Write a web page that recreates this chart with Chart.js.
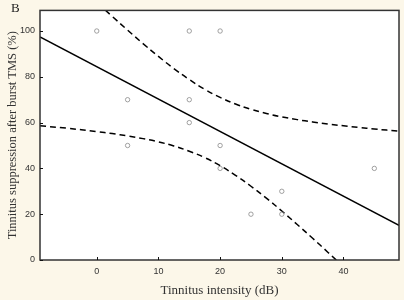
<!DOCTYPE html>
<html>
<head>
<meta charset="utf-8">
<script src="https://cdn.jsdelivr.net/npm/chart.js@4/dist/chart.umd.min.js"></script>
<style>
html,body{margin:0;padding:0;background:#fcf7e9;}
#wrap{position:relative;width:404px;height:300px;}
canvas{display:block;}
#lbl{position:absolute;left:11px;top:1px;font-family:"Liberation Serif",serif;font-size:13px;line-height:13px;color:#222;}
</style>
</head>
<body>
<div id="wrap"><canvas id="c" width="404" height="300"></canvas><div id="lbl">B</div></div>
<script>
// observations
const obsX = [0, 15, 20, 5, 15, 15, 5, 20, 20, 25, 30, 30, 45];
const obsY = [100, 100, 100, 70, 70, 60, 50, 50, 40, 20, 30, 20, 40];
// fitted line (endpoints read at the axis limits)
const fitX = [-9.2, 49];
const fitY = [97.4, 15.1];
// confidence band curves
const bandX = [-9.2, -5, 0, 2.5, 5, 7.5, 10, 12.5, 15, 17.5, 20, 22.5, 25, 27.5, 30, 32.5, 35, 37.5, 40, 42.5, 45, 49];
const upperY = [136.1, 125.3, 112.6, 106.4, 100.4, 94.5, 88.9, 83.6, 78.8, 74.5, 71.0, 68.1, 65.8, 64.0, 62.5, 61.3, 60.3, 59.4, 58.6, 57.9, 57.2, 56.3];
const lowerY = [58.6, 57.6, 56.1, 55.2, 54.2, 53.0, 51.6, 49.8, 47.5, 44.7, 41.2, 37.0, 32.2, 27.0, 21.4, 15.5, 9.5, 3.3, -3.0, -9.4, -15.8, -26.2];
const xTicks = [0, 10, 20, 30, 40];
const yTicks = [0, 20, 40, 60, 80, 100];

const pts = (xs, ys) => xs.map((x, i) => ({x: x, y: ys[i]}));

const frame = {
  id: 'frame',
  beforeDraw(chart) {
    const a = chart.chartArea, ctx = chart.ctx;
    ctx.save();
    ctx.fillStyle = '#fcf7e9';
    ctx.fillRect(0, 0, chart.width, chart.height);
    ctx.fillStyle = '#ffffff';
    ctx.fillRect(a.left, a.top, a.right - a.left, a.bottom - a.top);
    ctx.restore();
  },
  afterDraw(chart) {
    const a = chart.chartArea, ctx = chart.ctx;
    const xs = chart.scales.x, ys = chart.scales.y;
    ctx.save();
    ctx.strokeStyle = '#333';
    ctx.lineWidth = 1.5;
    ctx.strokeRect(a.left, a.top, a.right - a.left, a.bottom - a.top);
    ctx.strokeStyle = '#111';
    ctx.lineWidth = 1;
    ctx.beginPath();
    xTicks.forEach(v => { const p = Math.round(xs.getPixelForValue(v)) + 0.5; ctx.moveTo(p, a.bottom); ctx.lineTo(p, a.bottom - 3); });
    yTicks.forEach(v => { const p = Math.round(ys.getPixelForValue(v)) + 0.5; ctx.moveTo(a.left, p); ctx.lineTo(a.left + 3, p); });
    ctx.stroke();
    ctx.restore();
  }
};

new Chart(document.getElementById('c'), {
  type: 'scatter',
  data: {
    datasets: [
      {data: pts(obsX, obsY), showLine: false, pointRadius: 2.2, pointBorderWidth: 0.8, pointBorderColor: '#8a8a8a', pointBackgroundColor: 'rgba(255,255,255,0)'},
      {data: pts(fitX, fitY), showLine: true, borderColor: '#000', borderWidth: 1.5, pointRadius: 0},
      {data: pts(bandX, upperY), showLine: true, borderColor: '#000', borderWidth: 1.5, borderDash: [6, 4], pointRadius: 0, tension: 0.4},
      {data: pts(bandX, lowerY), showLine: true, borderColor: '#000', borderWidth: 1.5, borderDash: [6, 4], pointRadius: 0, tension: 0.4}
    ]
  },
  options: {
    responsive: false,
    animation: false,
    layout: {padding: {top: 7, right: 5, left: 0, bottom: 0}},
    plugins: {legend: {display: false}, tooltip: {enabled: false}},
    scales: {
      x: {
        type: 'linear', min: -9.2, max: 49,
        afterBuildTicks: s => { s.ticks = xTicks.map(v => ({value: v})); },
        afterFit: s => { s.height = 40; },
        grid: {display: false, drawTicks: false},
        border: {display: false},
        ticks: {padding: 6, color: '#333', font: {family: 'Liberation Sans', size: 9}},
        title: {display: true, text: 'Tinnitus intensity (dB)', color: '#333', font: {family: 'Liberation Serif', size: 13}, padding: {top: 0, bottom: 2}}
      },
      y: {
        type: 'linear', min: 0, max: 109,
        afterBuildTicks: s => { s.ticks = yTicks.map(v => ({value: v})); },
        afterFit: s => { s.width = 40; },
        grid: {display: false, drawTicks: false},
        border: {display: false},
        ticks: {padding: 5, color: '#333', font: {family: 'Liberation Sans', size: 9}},
        title: {display: true, text: 'Tinnitus suppression after burst TMS (%)', color: '#333', font: {family: 'Liberation Serif', size: 12.5}, padding: {top: 5, bottom: 0}}
      }
    }
  },
  plugins: [frame]
});
</script>
</body>
</html>
